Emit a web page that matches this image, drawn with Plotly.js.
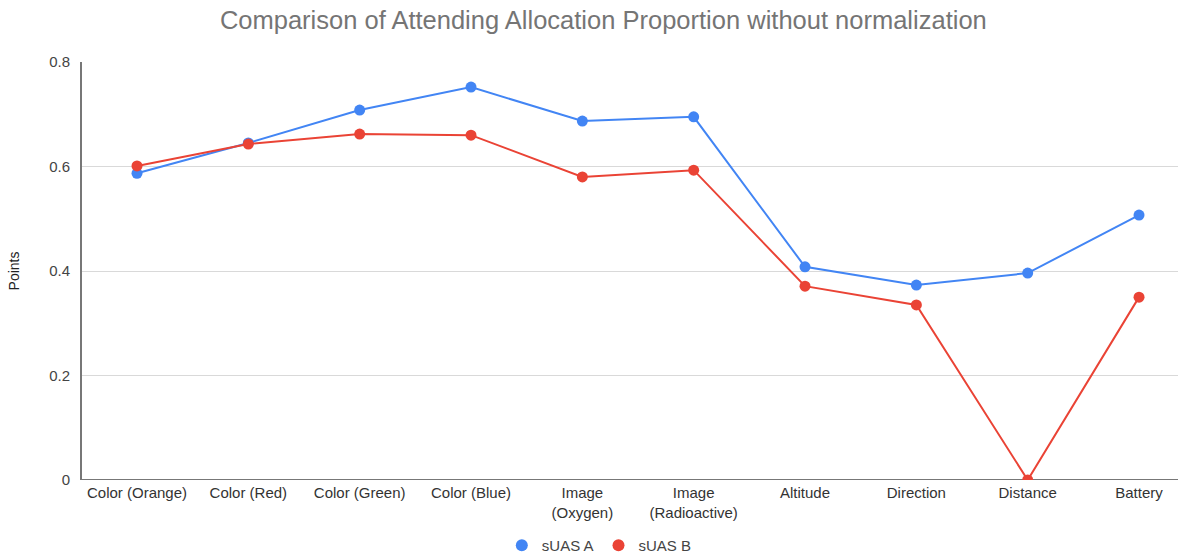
<!DOCTYPE html>
<html>
<head>
<meta charset="utf-8">
<script src="https://cdn.plot.ly/plotly-3.0.1.min.js"></script>
<style>html,body{margin:0;padding:0;background:#fff;}#chart{width:1190px;height:560px;}</style>
</head>
<body>
<div id="chart"></div>
<script>
const categories = ["Color (Orange)", "Color (Red)", "Color (Green)", "Color (Blue)", "Image<br>(Oxygen)", "Image<br>(Radioactive)", "Altitude", "Direction", "Distance", "Battery"];
const suasA = [0.587, 0.645, 0.708, 0.752, 0.687, 0.695, 0.408, 0.373, 0.396, 0.507];
const suasB = [0.601, 0.643, 0.662, 0.660, 0.580, 0.593, 0.371, 0.335, 0.0, 0.350];
const yTicks = [0, 0.2, 0.4, 0.6, 0.8];
const seriesNames = ["sUAS A", "sUAS B"];
const seriesColors = ["#4285F4", "#EA4335"];

const xIdx = categories.map((_, i) => i);
const FONT = "'Liberation Sans', Arial, sans-serif";

const traces = [];
[suasA, suasB].forEach((ys, k) => {
  traces.push({x: xIdx, y: ys, name: seriesNames[k], type: "scatter", mode: "lines+markers",
    line: {color: seriesColors[k], width: 2}, marker: {color: seriesColors[k], size: 11},
    cliponaxis: true, showlegend: false});
});
seriesNames.forEach((n, k) => {
  traces.push({x: [null], y: [null], name: n, type: "scatter", mode: "markers",
    marker: {color: seriesColors[k], size: 14}, showlegend: true});
});

const layout = {
  width: 1190, height: 560,
  margin: {l: 82, r: 12, t: 62, b: 80, autoexpand: false},
  paper_bgcolor: "#fff", plot_bgcolor: "#fff",
  font: {family: FONT, color: "#444", size: 14},
  title: {text: "Comparison of Attending Allocation Proportion without normalization",
          font: {family: FONT, size: 25.5, color: "#757575"},
          x: 0.507, xanchor: "center", y: 0.964, yanchor: "middle"},
  xaxis: {
    range: [-0.494, 9.35], tickmode: "array", tickvals: xIdx, ticktext: categories,
    showgrid: false, zeroline: false, showline: false, ticks: "",
    tickfont: {size: 15, color: "#333"}, ticklabelstandoff: 2, automargin: false
  },
  yaxis: {
    range: [0, 0.8], tickmode: "array", tickvals: yTicks, ticktext: yTicks.map(v => v === 0 ? "0" : v.toFixed(1)),
    showgrid: true, gridcolor: "#d9d9d9", gridwidth: 1, zeroline: false,
    showline: true, linecolor: "#777", linewidth: 2, ticks: "",
    tickfont: {size: 15, color: "#444"}, ticklabelstandoff: 7, automargin: false,
    title: {text: "Points", font: {size: 14, color: "#222"}, standoff: 26}
  },
  shapes: [{type: "line", xref: "paper", yref: "y", x0: 0, x1: 1, y0: 0, y1: 0,
            line: {color: "#777", width: 2}, layer: "below"}],
  showlegend: true,
  legend: {orientation: "h", x: 0.472, xanchor: "center", yref: "container", y: 0.026, yanchor: "middle",
           font: {size: 15, color: "#444"}, itemsizing: "constant", itemwidth: 30}
};

Plotly.newPlot("chart", traces, layout, {displayModeBar: false, staticPlot: true});
</script>
</body>
</html>
